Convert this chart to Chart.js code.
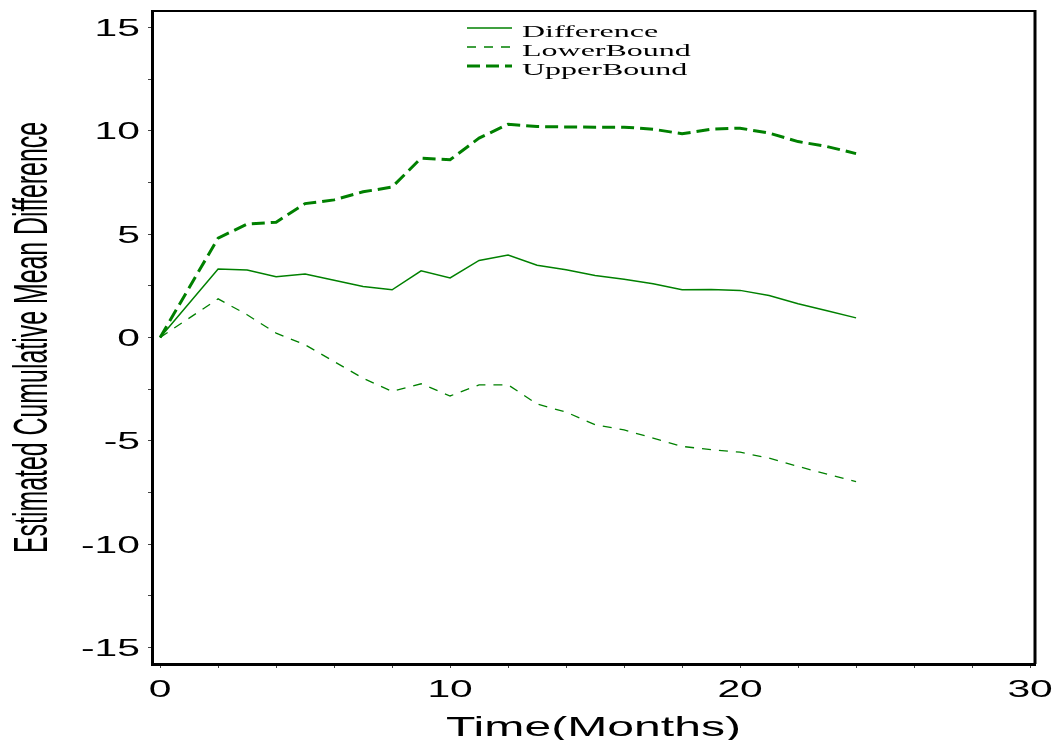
<!DOCTYPE html>
<html>
<head>
<meta charset="utf-8">
<script src="https://cdn.jsdelivr.net/npm/chart.js@4.4.1/dist/chart.umd.min.js"></script>
<style>
  body { margin: 0; background: #fff; }
  #chart { display: block; }
</style>
</head>
<body>
<canvas id="chart" width="1057" height="740"></canvas>
<script>
// data
const months = [0, 2, 3, 4, 5, 6, 7, 8, 9, 10, 11, 12, 13, 14, 15, 16, 17, 18, 19, 20, 21, 22, 23, 24];
const difference = [0, 3.31, 3.27, 2.94, 3.07, 2.77, 2.47, 2.31, 3.23, 2.88, 3.73, 3.99, 3.50, 3.28, 3.00, 2.82, 2.60, 2.31, 2.32, 2.28, 2.03, 1.63, 1.29, 0.95];
const lowerBound = [0, 1.87, 1.10, 0.21, -0.35, -1.16, -1.97, -2.61, -2.24, -2.83, -2.29, -2.29, -3.22, -3.61, -4.22, -4.47, -4.87, -5.27, -5.43, -5.55, -5.84, -6.24, -6.61, -6.98];
const upperBound = [0, 4.81, 5.49, 5.58, 6.48, 6.66, 7.05, 7.28, 8.68, 8.60, 9.65, 10.32, 10.21, 10.19, 10.18, 10.18, 10.08, 9.86, 10.08, 10.13, 9.89, 9.48, 9.24, 8.90];

const xTickLabels = [0, 10, 20, 30];
const yTickLabels = [-15, -10, -5, 0, 5, 10, 15];
const xTitle = 'Time(Months)';
const yTitle = 'Estimated Cumulative Mean Difference';

const green = '#008000';

function points(ys) {
  return months.map((m, i) => ({ x: m, y: ys[i] }));
}

// frame, stretched tick labels, titles and legend
const decor = {
  id: 'decor',
  afterDraw(chart) {
    const { ctx, chartArea: a } = chart;
    const x = chart.scales.x, y = chart.scales.y;
    ctx.save();
    ctx.strokeStyle = '#000';
    ctx.lineWidth = 2;
    ctx.beginPath();
    ctx.moveTo(a.left, a.top);
    ctx.lineTo(a.right, a.top);
    ctx.stroke();
    ctx.lineWidth = 3;
    ctx.beginPath();
    ctx.moveTo(a.right, a.top - 1);
    ctx.lineTo(a.right, a.bottom);
    ctx.stroke();

    ctx.fillStyle = '#000';
    ctx.font = '24px "Liberation Sans", Arial, sans-serif';
    yTickLabels.forEach(v => {
      ctx.save();
      ctx.translate(140, y.getPixelForValue(v));
      ctx.scale(1.7, 1);
      ctx.textAlign = 'right';
      ctx.fillText(String(v), 0, 8.5);
      ctx.restore();
    });
    xTickLabels.forEach(v => {
      ctx.save();
      ctx.translate(x.getPixelForValue(v), 697);
      ctx.scale(1.7, 1);
      ctx.textAlign = 'center';
      ctx.fillText(String(v), 0, 0);
      ctx.restore();
    });

    // x title
    ctx.font = '28px "Liberation Sans", Arial, sans-serif';
    let w = ctx.measureText(xTitle).width;
    ctx.save();
    ctx.translate((a.left + a.right) / 2, 736);
    ctx.scale(295 / w, 1);
    ctx.textAlign = 'center';
    ctx.fillText(xTitle, 0, 0);
    ctx.restore();

    // y title
    ctx.font = '48px "Liberation Sans Narrow", "Liberation Sans", Arial, sans-serif';
    w = ctx.measureText(yTitle).width;
    ctx.save();
    ctx.translate(30, (a.top + a.bottom) / 2);
    ctx.rotate(-Math.PI / 2);
    ctx.scale(431 / w, 1);
    ctx.textAlign = 'center';
    ctx.fillText(yTitle, 0, 17);
    ctx.restore();

    // legend
    ctx.font = '16px "Liberation Serif", "Times New Roman", serif';
    chart.data.datasets.forEach((ds, i) => {
      const ly = 28 + i * 19;
      ctx.save();
      ctx.strokeStyle = ds.borderColor;
      ctx.lineWidth = ds.borderWidth;
      ctx.setLineDash(ds.borderDash || []);
      ctx.beginPath();
      ctx.moveTo(467, ly);
      ctx.lineTo(512, ly);
      ctx.stroke();
      ctx.restore();
      ctx.save();
      ctx.translate(522, ly + 8.5);
      ctx.scale(2, 1);
      ctx.fillText(ds.label, 0, 0);
      ctx.restore();
    });
    ctx.restore();
  }
};

new Chart(document.getElementById('chart'), {
  type: 'line',
  data: {
    datasets: [
      { label: 'Difference', data: points(difference), borderColor: green, borderWidth: 1.5, borderDash: [] },
      { label: 'LowerBound', data: points(lowerBound), borderColor: green, borderWidth: 1.3, borderDash: [9, 8] },
      { label: 'UpperBound', data: points(upperBound), borderColor: green, borderWidth: 3, borderDash: [13, 6] }
    ]
  },
  options: {
    responsive: false,
    animation: false,
    events: [],
    layout: { padding: { top: 11, right: 22, left: 0, bottom: 0 } },
    elements: { point: { radius: 0 }, line: { tension: 0, fill: false } },
    plugins: { legend: { display: false }, tooltip: { enabled: false } },
    scales: {
      x: {
        type: 'linear',
        min: -0.28,
        max: 30.17,
        ticks: { display: false, stepSize: 2, includeBounds: false, autoSkip: false },
        grid: { drawOnChartArea: false, tickLength: 4, tickColor: '#444', tickWidth: 1 },
        border: { display: true, color: '#000', width: 3 },
        afterFit(scale) { scale.height = 76; }
      },
      y: {
        type: 'linear',
        min: -15.8,
        max: 15.8,
        ticks: { display: false, stepSize: 2.5, includeBounds: false, autoSkip: false },
        grid: { drawOnChartArea: false, tickLength: 4, tickColor: '#444', tickWidth: 1 },
        border: { display: true, color: '#000', width: 3 },
        afterFit(scale) { scale.width = 152; }
      }
    }
  },
  plugins: [decor]
});
</script>
</body>
</html>
